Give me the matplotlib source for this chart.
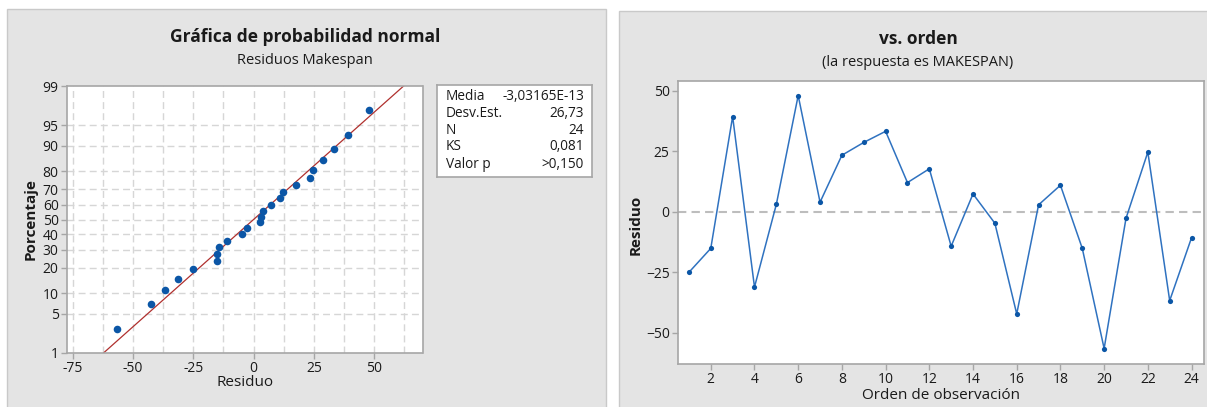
import numpy as np
import matplotlib
matplotlib.use('Agg')
import matplotlib.pyplot as plt
from matplotlib.patches import Rectangle
from statistics import NormalDist

plt.rcParams['font.family'] = ['Open Sans', 'DejaVu Sans']

# residuals in observation order (read from the "vs. orden" panel)
orden = np.arange(1, 25)
residuo = [-25.1, -15.2, 39.3, -31.2, 3.0, 48.0, 3.9, 23.3, 28.6, 33.2, 12.0, 17.7,
           -14.3, 7.3, -4.8, -42.3, 2.8, 10.9, -15.2, -56.6, -2.8, 24.6, -36.8, -10.8]

media = 0.0
desv = 26.73
stats_labels = ['Media', 'Desv.Est.', 'N', 'KS', 'Valor p']
stats_values = ['-3,03165E-13', '26,73', '24', '0,081', '>0,150']

pct_ticks = [1, 5, 10, 20, 30, 40, 50, 60, 70, 80, 90, 95, 99]
x_ticks_left = [-75, -50, -25, 0, 25, 50]
x_ticks_right = [2, 4, 6, 8, 10, 12, 14, 16, 18, 20, 22, 24]
y_ticks_right = [-50, -25, 0, 25, 50]

W, H = 1207, 407
fig = plt.figure(figsize=(W / 100, H / 100), dpi=100)
fig.patch.set_facecolor('white')

def fx(px):
    return px / W

def fy(py):
    return 1 - py / H

# gray panels
PANEL = '#e4e4e4'
fig.patches.append(Rectangle((fx(7), fy(420)), fx(606) - fx(7), fy(9) - fy(420),
                             transform=fig.transFigure, facecolor=PANEL,
                             edgecolor='#c9c9c9', lw=1, zorder=-2))
fig.patches.append(Rectangle((fx(619), fy(420)), fx(1212) - fx(619), fy(11) - fy(420),
                             transform=fig.transFigure, facecolor=PANEL,
                             edgecolor='#c9c9c9', lw=1, zorder=-2))

nd = NormalDist()
_ppf = np.vectorize(lambda p: nd.inv_cdf(min(max(p / 100.0, 1e-9), 1 - 1e-9)), otypes=[float])
_cdf = np.vectorize(lambda z: nd.cdf(z) * 100.0, otypes=[float])

def fwd(p):
    return _ppf(np.asarray(p, dtype=float))

def inv(z):
    return _cdf(np.asarray(z, dtype=float))

TXT = '#1a1a1a'
SPINE = '#a6a6a6'
GRID = '#d6d6d6'
BLUE = '#0b56a6'

def style_axes(ax):
    for s in ax.spines.values():
        s.set_color(SPINE)
        s.set_linewidth(1.2)
    ax.tick_params(colors=SPINE, labelcolor=TXT, labelsize=10, length=4, width=1, pad=2)

# ---------------- left: normal probability plot ----------------
ax1 = fig.add_axes([fx(67), fy(353), fx(422.5) - fx(67), fy(86) - fy(353)], zorder=2)
ax1.set_yscale('function', functions=(fwd, inv))
n = len(residuo)
srt = np.sort(residuo)
pos = (np.arange(1, n + 1) - 0.3) / (n + 0.4) * 100
ax1.set_xlim(-77.3, 70)
ax1.set_ylim(1, 99)

for xv in np.arange(-75, 63, 12.5):
    ax1.axvline(xv, color=GRID, lw=1, ls=(0, (5, 3)), zorder=1)
for yv in pct_ticks[1:-1]:
    ax1.axhline(yv, color=GRID, lw=1, ls=(0, (5, 3)), zorder=1)

pline = np.linspace(1, 99, 200)
xline = media + desv * np.array([nd.inv_cdf(p / 100) for p in pline])
ax1.plot(xline, pline, color='#b0302e', lw=0.9, zorder=2)
ax1.scatter(srt, pos, s=30, color=BLUE, zorder=3, linewidths=0)

ax1.set_yticks(pct_ticks)
ax1.set_yticklabels([str(t) for t in pct_ticks])
ax1.yaxis.set_minor_locator(matplotlib.ticker.NullLocator())
ax1.set_xticks(x_ticks_left)
ax1.set_xticklabels([str(t) for t in x_ticks_left])
style_axes(ax1)
ax1.set_xlabel('Residuo', fontsize=11, color=TXT, va='center')
ax1.xaxis.set_label_coords(0.5, -0.112)
ax1.set_ylabel('Porcentaje', fontsize=11, color=TXT, fontweight='bold', va='center')
ax1.yaxis.set_label_coords(-0.101, 0.5)

fig.text(fx(305), fy(37), 'Gráfica de probabilidad normal', ha='center', va='center',
         fontsize=12.5, fontweight='bold', color=TXT)
fig.text(fx(305), fy(60), 'Residuos Makespan', ha='center', va='center',
         fontsize=10.5, color=TXT)

# stats box
box = fig.add_axes([fx(437), fy(177), fx(592) - fx(437), fy(85) - fy(177)], zorder=3)
box.set_xticks([])
box.set_yticks([])
for s in box.spines.values():
    s.set_color(SPINE)
    s.set_linewidth(1.2)
row_y = [96, 113.5, 130.5, 147, 164]
for lab, val, ry in zip(stats_labels, stats_values, row_y):
    fig.text(fx(446), fy(ry), lab, ha='left', va='center', fontsize=9.8, color=TXT, zorder=4)
    fig.text(fx(584), fy(ry), val, ha='right', va='center', fontsize=9.8, color=TXT, zorder=4)

# ---------------- right: residuals vs order ----------------
ax2 = fig.add_axes([fx(678), fy(364), fx(1204) - fx(678), fy(81) - fy(364)], zorder=2)
ax2.axhline(0, color='#bdbdbd', lw=1.5, ls=(0, (4, 2.5)), zorder=1)
ax2.plot(orden, residuo, color='#2f72c0', lw=1.1, zorder=2)
ax2.scatter(orden, residuo, s=14, color=BLUE, zorder=3, linewidths=0)
ax2.set_xlim(0.5, 24.57)
ax2.set_ylim(-63, 54)
ax2.set_xticks(x_ticks_right)
ax2.set_yticks(y_ticks_right)
style_axes(ax2)
ax2.set_xlabel('Orden de observación', fontsize=11, color=TXT, va='center')
ax2.xaxis.set_label_coords(0.5, -0.113)
ax2.set_ylabel('Residuo', fontsize=11, color=TXT, fontweight='bold', va='center')
ax2.yaxis.set_label_coords(-0.08, 0.49)

fig.text(fx(918), fy(39), 'vs. orden', ha='center', va='center',
         fontsize=12.5, fontweight='bold', color=TXT)
fig.text(fx(918), fy(62), '(la respuesta es MAKESPAN)', ha='center', va='center',
         fontsize=10.5, color=TXT)

fig.savefig('out.png', dpi=100, facecolor='white')
